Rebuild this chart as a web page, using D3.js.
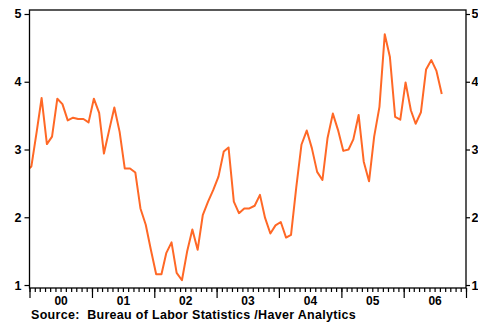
<!DOCTYPE html>
<html>
<head>
<meta charset="utf-8">
<script src="https://cdn.jsdelivr.net/npm/d3@7"></script>
<style>
  body { margin: 0; background: #fff; }
  svg text { font-family: "Liberation Sans", Arial, sans-serif; font-weight: bold; }
</style>
</head>
<body>
<svg id="chart" width="478" height="322"></svg>
<script>
// monthly series, starting Dec 1999
var startMonth = "1999-12";
var rates = [2.68,
	2.75, 3.26, 3.76, 3.08, 3.19, 3.75, 3.67, 3.43, 3.47, 3.45, 3.45, 3.40,
	3.75, 3.54, 2.94, 3.29, 3.62, 3.26, 2.72, 2.72, 2.66, 2.13, 1.89, 1.52,
	1.16, 1.16, 1.47, 1.63, 1.18, 1.07, 1.49, 1.82, 1.52, 2.03, 2.23, 2.40,
	2.60, 2.97, 3.03, 2.23, 2.06, 2.13, 2.13, 2.17, 2.33, 1.99, 1.76, 1.88,
	1.93, 1.70, 1.74, 2.45, 3.07, 3.28, 3.02, 2.67, 2.55, 3.17, 3.53, 3.29,
	2.98, 3.00, 3.15, 3.51, 2.82, 2.53, 3.19, 3.63, 4.70, 4.37, 3.48, 3.44,
	3.99, 3.58, 3.38, 3.55, 4.18, 4.32, 4.16, 3.82];
var years = [2000, 2001, 2002, 2003, 2004, 2005, 2006];
var yearLabels = ["00", "01", "02", "03", "04", "05", "06"];
var yTicks = [1, 2, 3, 4, 5];
var sourceNote = "Source:  Bureau of Labor Statistics /Haver Analytics";

var parseMonth = d3.timeParse("%Y-%m");
var first = parseMonth(startMonth);
var data = rates.map((v, i) => {
	var d = d3.timeMonth.offset(first, i);
	return {date: new Date(d.getFullYear(), d.getMonth(), 12), value: v};
});

var svg = d3.select("#chart"),
	margin = {top: 10, left: 29.5, bottom: 34, right: 12};
var width = +svg.attr("width"), height = +svg.attr("height");
var x0 = margin.left, x1 = width - margin.right,
	y0 = height - margin.bottom, y1 = margin.top;

var x = d3.scaleTime()
	.domain([new Date(years[0], 0, 1), new Date(years[years.length - 1] + 1, 0, 1)])
	.range([x0, x1]);

var y = d3.scaleLinear()
	.domain([0.956, 5.059])
	.range([y0, y1]);

svg.append("clipPath").attr("id", "plot")
	.append("rect")
	.attr("x", x0).attr("y", y1)
	.attr("width", x1 - x0).attr("height", y0 - y1);

svg.append("path")
	.datum(data)
	.attr("clip-path", "url(#plot)")
	.attr("fill", "none")
	.attr("stroke", "#ff6826")
	.attr("stroke-width", 2)
	.attr("stroke-linejoin", "round")
	.attr("d", d3.line().x(d => x(d.date)).y(d => y(d.value)));

// frame
svg.append("rect")
	.attr("x", x0).attr("y", y1)
	.attr("width", x1 - x0).attr("height", y0 - y1)
	.attr("fill", "none")
	.attr("stroke", "#000")
	.attr("stroke-width", 1.3);

// y axes
var yLeft = svg.append("g")
	.attr("transform", `translate(${x0},0)`)
	.call(d3.axisLeft(y).tickValues(yTicks).tickSize(5).tickPadding(3).tickFormat(d3.format("d")));
var yRight = svg.append("g")
	.attr("transform", `translate(${x1},0)`)
	.call(d3.axisRight(y).tickValues(yTicks).tickSize(4).tickPadding(1.5).tickFormat(d3.format("d")));

// x axis: monthly minor, yearly major, labels mid-year
var xMinor = svg.append("g")
	.attr("transform", `translate(0,${y0})`)
	.call(d3.axisBottom(x).ticks(d3.timeMonth.every(1)).tickSize(4).tickFormat(""));
var xMajor = svg.append("g")
	.attr("transform", `translate(0,${y0})`)
	.call(d3.axisBottom(x).tickValues(years.map(yr => new Date(yr, 0, 1)).concat([x.domain()[1]])).tickSize(10).tickFormat(""));
var xLabels = svg.append("g")
	.attr("transform", `translate(0,${y0})`)
	.call(d3.axisBottom(x).tickValues(years.map(yr => new Date(yr, 6, 1))).tickSize(0).tickPadding(8)
		.tickFormat((d, i) => yearLabels[i]));

[yLeft, yRight, xMinor, xMajor, xLabels].forEach(g => {
	g.select(".domain").remove();
	g.selectAll("line").attr("stroke", "#000").attr("stroke-width", 1.2);
	g.selectAll("text").attr("fill", "#000").style("font-size", "12.5px");
});
xLabels.selectAll("text").style("font-size", "12px");

svg.append("text")
	.attr("x", 31)
	.attr("y", 319.3)
	.style("font-size", "12.5px")
	.style("letter-spacing", "0.3px")
	.style("white-space", "pre")
	.text(sourceNote);
</script>
</body>
</html>
